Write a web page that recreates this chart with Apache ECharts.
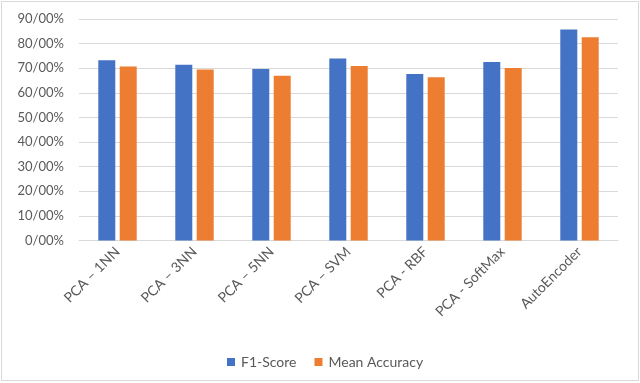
<!DOCTYPE html>
<html><head><meta charset="utf-8">
<script src="https://cdn.jsdelivr.net/npm/echarts@6/dist/echarts.min.js"></script>
<style>html,body{margin:0;padding:0;background:#fff}#c{width:640px;height:383px}
#frame{position:absolute;left:1px;top:1px;width:636px;height:378px;border:1px solid #d9d9d9;pointer-events:none}</style>
</head><body><div id="c"></div><div id="frame"></div>
<script>
const categories = ['PCA – 1NN','PCA – 3NN','PCA – 5NN','PCA – SVM','PCA - RBF','PCA - SoftMax','AutoEncoder'];
const f1Score = [73.2, 71.4, 69.7, 73.9, 67.7, 72.5, 85.7];
const meanAccuracy = [70.7, 69.5, 66.9, 70.9, 66.3, 70.1, 82.6];
const seriesNames = ['F1-Score','Mean Accuracy'];
const yTicks = [0,10,20,30,40,50,60,70,80,90];

const font = 'Lato, "Open Sans", sans-serif';
const chart = echarts.init(document.getElementById('c'));
chart.setOption({
  animation:false,
  backgroundColor:'#fff',
  color:['#4472C4','#ED7D31'],
  grid:{left:79,right:22,top:19,bottom:142.5,containLabel:false},
  legend:{data:seriesNames,left:222,top:350,itemWidth:8,itemHeight:8,itemGap:18,icon:'rect',
    textStyle:{color:'#595959',fontSize:14,fontFamily:font,padding:[0,0,0,1]}},
  xAxis:{type:'category',data:categories,
    axisLine:{lineStyle:{color:'#d9d9d9'}},axisTick:{show:false},
    axisLabel:{rotate:45,color:'#595959',fontSize:14,fontFamily:font,margin:9,interval:0}},
  yAxis:{type:'value',min:0,max:90,interval:10,
    axisLine:{show:false},axisTick:{show:false},
    splitLine:{lineStyle:{color:'#d9d9d9'}},
    axisLabel:{color:'#595959',fontSize:13,fontFamily:font,margin:15,
      formatter:v=>yTicks.includes(v)?v+'/00%':''}},
  series:[
    {name:seriesNames[0],type:'bar',data:f1Score,barWidth:17,barGap:'26%'},
    {name:seriesNames[1],type:'bar',data:meanAccuracy,barWidth:17,barGap:'26%'}
  ]
});
</script></body></html>
